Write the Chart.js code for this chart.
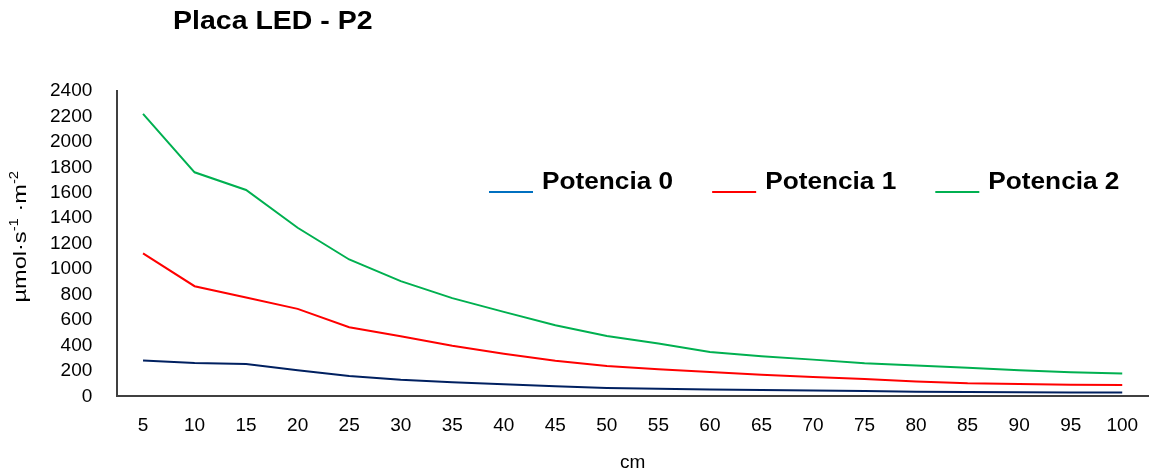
<!DOCTYPE html>
<html>
<head>
<meta charset="utf-8">
<script src="https://cdn.jsdelivr.net/npm/chart.js@4"></script>
<style>
  html, body { margin: 0; padding: 0; background: #fff; }
  #wrap { width: 1150px; height: 474px; position: relative; }
</style>
</head>
<body>
<div id="wrap"><canvas id="chart"></canvas></div>
<script>
var distances = ['5', '10', '15', '20', '25', '30', '35', '40', '45', '50', '55', '60', '65', '70', '75', '80', '85', '90', '95', '100'];
var potencia0 = [283, 262, 254, 205, 160, 131, 112, 95, 80, 66, 60, 55, 50, 46, 42, 37, 35, 33, 31, 30];
var potencia1 = [1124, 866, 777, 688, 543, 472, 398, 336, 280, 238, 213, 191, 170, 152, 137, 118, 103, 97, 92, 89];
var potencia2 = [2220, 1761, 1622, 1325, 1076, 906, 772, 664, 559, 475, 415, 349, 315, 289, 260, 242, 226, 205, 189, 179];
var seriesNames = ['Potencia 0', 'Potencia 1', 'Potencia 2'];
var lineColors = ['#002060', '#FF0000', '#00B050'];
var legendColors = ['#0070C0', '#FF0000', '#00B050'];
var chartTitle = 'Placa LED - P2';

var FONT = "'Liberation Sans', Arial, sans-serif";

// title, legend and y title (with superscripts) drawn by hand
var decorPlugin = {
    id: 'decor',
    afterDraw(chart) {
        var ctx = chart.ctx;
        ctx.save();
        ctx.fillStyle = '#000';
        ctx.textBaseline = 'alphabetic';

        ctx.save();
        ctx.font = 'bold 25px ' + FONT;
        ctx.translate(173, 29);
        ctx.scale(1.14, 1);
        ctx.fillText(chartTitle, 0, 0);
        ctx.restore();

        var x = 489;
        ctx.font = 'bold 23px ' + FONT;
        chart.data.datasets.forEach((ds, i) => {
            ctx.strokeStyle = legendColors[i];
            ctx.lineWidth = 2;
            ctx.beginPath();
            ctx.moveTo(x, 192);
            ctx.lineTo(x + 44, 192);
            ctx.stroke();
            var w = ctx.measureText(ds.label).width * 1.14;
            ctx.save();
            ctx.translate(x + 53, 189);
            ctx.scale(1.14, 1);
            ctx.fillText(ds.label, 0, 0);
            ctx.restore();
            x = x + 53 + w + 39;
        });

        var parts = [['µmol·s', 19, 0], ['-1', 12, -8], [' ·m', 19, 0], ['-2', 12, -8]];
        var total = 0;
        parts.forEach(p => {
            ctx.font = p[1] + 'px ' + FONT;
            total += ctx.measureText(p[0]).width;
        });
        var area = chart.chartArea;
        ctx.translate(26, (area.top + area.bottom) / 2 - 7);
        ctx.rotate(-Math.PI / 2);
        ctx.scale(1.24, 1);
        var u = -total / 2;
        parts.forEach(p => {
            ctx.font = p[1] + 'px ' + FONT;
            ctx.fillText(p[0], u, p[2]);
            u += ctx.measureText(p[0]).width;
        });
        ctx.restore();
    }
};

var values = [potencia0, potencia1, potencia2];
var datasets = [];
for (var i = 0; i < values.length; i++) {
    datasets.push({
        label: seriesNames[i],
        data: values[i],
        borderColor: lineColors[i],
        backgroundColor: lineColors[i],
        borderWidth: 2,
        pointRadius: 0,
        tension: 0,
        fill: false
    });
}

var chart = new Chart(document.getElementById('chart'), {
    type: 'line',
    data: { labels: distances, datasets: datasets },
    options: {
        responsive: true,
        maintainAspectRatio: false,
        animation: false,
        layout: { padding: { top: 91, left: 25, right: 2, bottom: 0 } },
        plugins: {
            legend: { display: false },
            title: { display: false },
            tooltip: { enabled: false }
        },
        scales: {
            x: {
                offset: true,
                grid: { display: false, drawTicks: false },
                border: { display: true, color: '#404040', width: 2 },
                ticks: { color: '#000', padding: 18, maxRotation: 0, autoSkip: false, font: { family: FONT, size: 19 } },
                title: { display: true, text: 'cm', color: '#000', padding: { top: -4, bottom: 0 }, font: { family: FONT, size: 19 } },
                afterFit: s => { s.paddingRight = 0; s.paddingLeft = 0; }
            },
            y: {
                min: 0,
                max: 2400,
                grid: { display: false, drawTicks: false },
                border: { display: true, color: '#404040', width: 2 },
                ticks: {
                    stepSize: 200,
                    autoSkip: false,
                    color: '#000',
                    padding: 25,
                    font: { family: FONT, size: 19 },
                    callback: v => String(v)
                }
            }
        }
    },
    plugins: [decorPlugin]
});
</script>
</body>
</html>
